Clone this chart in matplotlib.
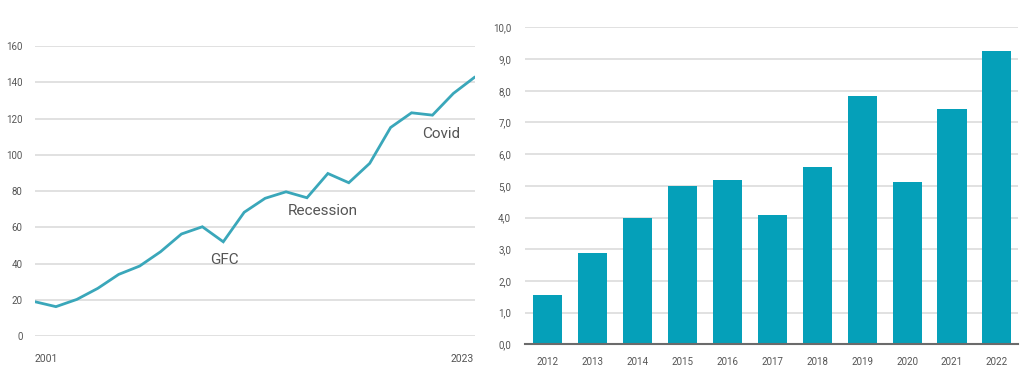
import matplotlib
matplotlib.use("Agg")
import matplotlib.pyplot as plt

# ── Data ──────────────────────────────────────────────────────────────────────
line_values = [18.9, 16.2, 20.2, 26.3, 34.0, 38.6, 46.5, 56.3, 60.3, 52.0, 68.3,
               76.0, 79.6, 76.3, 89.7, 84.6, 95.3, 115.1, 123.2, 121.9, 133.9, 142.7]
line_tick_labels = ["2001", "2023"]
annotations = [("GFC", 9.05, 42), ("Recession", 13.75, 69), ("Covid", 19.4, 111.5)]

bar_years = ["2012", "2013", "2014", "2015", "2016", "2017",
             "2018", "2019", "2020", "2021", "2022"]
bar_values = [1.55, 2.87, 3.98, 5.0, 5.17, 4.09, 5.61, 7.84, 5.11, 7.44, 9.27]

# ── Style ─────────────────────────────────────────────────────────────────────
plt.rcParams.update({
    "font.family": ["Roboto", "DejaVu Sans"],
    "font.size": 7,
})
C_LINE = "#3aa7ba"
C_BAR = "#05a0b9"
C_GRID = "#dcdcdc"
C_TEXT = "#555555"

fig = plt.figure(figsize=(10.24, 3.75), dpi=100)

# ── Left: line chart ─────────────────────────────────────────────────────────
ax1 = fig.add_axes([0.0342, 0.104, 0.430, 0.773])
x = list(range(len(line_values)))
ax1.plot(x, line_values, color=C_LINE, linewidth=2, solid_joinstyle="miter", zorder=3)
ax1.set_ylim(0, 160)
ax1.set_xlim(0, len(line_values) - 1 + 0.05)
ax1.set_yticks(range(0, 161, 20))
ax1.yaxis.grid(True, color=C_GRID, linewidth=1.2)
ax1.set_axisbelow(True)
for s in ax1.spines.values():
    s.set_visible(False)
ax1.tick_params(axis="both", length=0, colors=C_TEXT, labelsize=7)
ax1.tick_params(axis="y", pad=9)
ax1.tick_params(axis="x", pad=13, labelsize=7.5)
ax1.set_xticks([0, len(line_values) - 1])
ax1.set_xticklabels(line_tick_labels)
xl = ax1.get_xticklabels()
xl[0].set_horizontalalignment("left")
xl[1].set_horizontalalignment("right")
for label, xv, yv in annotations:
    ax1.text(xv, yv, label, fontsize=11, color=C_TEXT, ha="center", va="center",
             fontstretch="condensed")

# ── Right: bar chart ─────────────────────────────────────────────────────────
ax2 = fig.add_axes([0.5127, 0.0819, 0.481, 0.845])
ax2.bar(range(len(bar_years)), bar_values, width=0.65, color=C_BAR, zorder=3)
ax2.set_xlim(-0.51, len(bar_years) - 1 + 0.46)
ax2.set_ylim(0, 10)
ax2.set_yticks(range(0, 11))
ax2.set_yticklabels([f"{v:.1f}".replace(".", ",") for v in range(0, 11)])
ax2.set_xticks(range(len(bar_years)))
ax2.set_xticklabels(bar_years)
ax2.yaxis.grid(True, color=C_GRID, linewidth=1.2)
ax2.set_axisbelow(True)
for s in ["top", "right", "left"]:
    ax2.spines[s].set_visible(False)
ax2.spines["bottom"].set_color("#6b6b6b")
ax2.spines["bottom"].set_linewidth(1.5)
ax2.spines["bottom"].set_zorder(4)
ax2.tick_params(axis="both", length=0, colors=C_TEXT, labelsize=7)
ax2.tick_params(axis="y", pad=10)
ax2.tick_params(axis="x", pad=9)

fig.savefig("out.png", dpi=100)
